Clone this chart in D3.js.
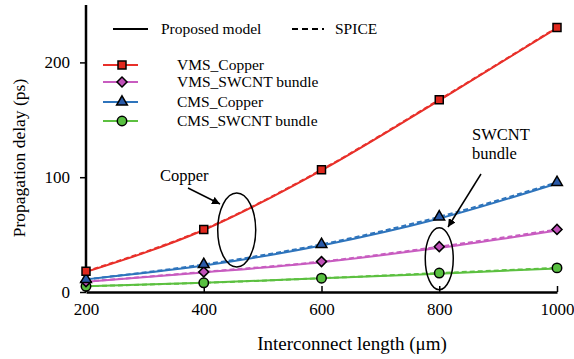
<!DOCTYPE html>
<html>
<head>
<meta charset="utf-8">
<script src="https://cdn.jsdelivr.net/npm/d3@7"></script>
<style>
  body { margin: 0; background: #fff; }
</style>
</head>
<body>
<div id="chart"></div>
<script>
// data
const lengths = [200, 400, 600, 800, 1000];
const xTicks = [200, 400, 600, 800, 1000];
const yTicks = [0, 100, 200];

const vmsCopperModel = [17.5, 54, 106, 167, 230];
const vmsCopperSpice = [18, 54.5, 106.5, 167.5, 230.5];
const vmsSwcntModel = [9, 17, 26, 38.5, 53.5];
const vmsSwcntSpice = [9, 17.5, 26.5, 39.5, 54.5];
const cmsCopperModel = [11, 23, 40.5, 64, 94.5];
const cmsCopperSpice = [11, 24, 41.5, 65.5, 95.5];
const cmsSwcntModel = [5, 8, 12, 16, 20.5];
const cmsSwcntSpice = [5, 8, 12, 16.5, 21];

const seriesNames = ['VMS_Copper', 'VMS_SWCNT bundle', 'CMS_Copper', 'CMS_SWCNT bundle'];

const FONT = 'Liberation Serif';

const series = [
  { name: seriesNames[3], model: cmsSwcntModel, spice: cmsSwcntSpice, line: '#5cc040', fill: '#58c040', symbol: d3.symbolCircle, size: 70, rot: 0 },
  { name: seriesNames[1], model: vmsSwcntModel, spice: vmsSwcntSpice, line: '#c85cc0', fill: '#c050b8', symbol: d3.symbolSquare, size: 50, rot: 45 },
  { name: seriesNames[2], model: cmsCopperModel, spice: cmsCopperSpice, line: '#2e74bc', fill: '#2a5aa8', symbol: d3.symbolTriangle, size: 50, rot: 0 },
  { name: seriesNames[0], model: vmsCopperModel, spice: vmsCopperSpice, line: '#e8302a', fill: '#e0281e', symbol: d3.symbolSquare, size: 64, rot: 0 }
];

const W = 574, H = 359;
const margin = { top: 5, right: 17, bottom: 67, left: 86 };
const width = W - margin.left - margin.right;
const height = H - margin.top - margin.bottom;

const svg = d3.select('#chart').append('svg')
  .attr('width', W).attr('height', H)
  .attr('font-family', FONT);

const g = svg.append('g').attr('transform', `translate(${margin.left},${margin.top})`);

const x = d3.scaleLinear().domain([200, 1000]).range([0, width]);
const y = d3.scaleLinear().domain([0, 250]).range([height, 0]);

// axes
const xAxis = g.append('g').attr('transform', `translate(0,${height})`)
  .call(d3.axisBottom(x).tickValues(xTicks).tickFormat(d3.format('d'))
    .tickSize(-6).tickPadding(14).tickSizeOuter(0));
const yAxis = g.append('g')
  .call(d3.axisLeft(y).tickValues(yTicks).tickFormat(d3.format('d'))
    .tickSize(6).tickPadding(10).tickSizeOuter(0));
[xAxis, yAxis].forEach(a => {
  a.attr('font-family', FONT).attr('font-size', 17);
  a.select('.domain').attr('stroke', '#000').attr('stroke-width', 2.5);
  a.selectAll('.tick line').attr('stroke', '#000').attr('stroke-width', 1.5);
  a.selectAll('.tick text').attr('fill', '#000');
});
xAxis.selectAll('.tick text').attr('dy', '0.55em');
yAxis.select('.domain').attr('d', `M0,${height}V0`);

// lines
const line = (vals) => d3.line()
  .x((d, i) => x(lengths[i]))
  .y(d => y(d))
  .curve(d3.curveMonotoneX)(vals);

series.forEach(s => {
  g.append('path').attr('d', line(s.model)).attr('fill', 'none')
    .attr('stroke', s.line).attr('stroke-width', 2);
  g.append('path').attr('d', line(s.spice)).attr('fill', 'none')
    .attr('stroke', s.line).attr('stroke-width', 2).attr('stroke-dasharray', '5,3');
});

series.forEach(s => {
  g.selectAll(null).data(s.spice).enter().append('path')
    .attr('d', d3.symbol().type(s.symbol).size(s.size))
    .attr('transform', (d, i) => `translate(${x(lengths[i])},${y(d)}) rotate(${s.rot})`)
    .attr('fill', s.fill).attr('stroke', '#000').attr('stroke-width', 1.5);
});

// annotations
g.append('ellipse')
  .attr('cx', x(456)).attr('cy', y(54))
  .attr('rx', 19).attr('ry', 37)
  .attr('fill', 'none').attr('stroke', '#000').attr('stroke-width', 1.5);
g.append('ellipse')
  .attr('cx', x(800)).attr('cy', y(29))
  .attr('rx', 14).attr('ry', 31)
  .attr('fill', 'none').attr('stroke', '#000').attr('stroke-width', 1.5);

svg.append('defs').append('marker')
  .attr('id', 'arrow').attr('viewBox', '0 0 10 10')
  .attr('refX', 10).attr('refY', 5)
  .attr('markerWidth', 8).attr('markerHeight', 8)
  .attr('markerUnits', 'userSpaceOnUse')
  .attr('orient', 'auto')
  .append('path').attr('d', 'M0,0L10,5L0,10z').attr('fill', '#000');

svg.append('line').attr('x1', 188).attr('y1', 188).attr('x2', 220).attr('y2', 204)
  .attr('stroke', '#000').attr('stroke-width', 1.5).attr('marker-end', 'url(#arrow)');
svg.append('line').attr('x1', 481).attr('y1', 174).attr('x2', 448).attr('y2', 227)
  .attr('stroke', '#000').attr('stroke-width', 1.5).attr('marker-end', 'url(#arrow)');

svg.append('text').attr('x', 160).attr('y', 181).attr('font-size', 16.5).text('Copper');
svg.append('text').attr('x', 472).attr('y', 140).attr('font-size', 16.5).text('SWCNT');
svg.append('text').attr('x', 472).attr('y', 159).attr('font-size', 16.5).text('bundle');

// legend: model vs SPICE
svg.append('line').attr('x1', 113).attr('x2', 148).attr('y1', 29).attr('y2', 29)
  .attr('stroke', '#000').attr('stroke-width', 2);
svg.append('text').attr('x', 161).attr('y', 34).attr('font-size', 15.5).text('Proposed model');
svg.append('line').attr('x1', 292).attr('x2', 324).attr('y1', 29).attr('y2', 29)
  .attr('stroke', '#000').attr('stroke-width', 2).attr('stroke-dasharray', '6,4');
svg.append('text').attr('x', 335).attr('y', 34).attr('font-size', 15.5).text('SPICE');

// legend: series
const legendOrder = [series[3], series[1], series[2], series[0]];
const legendY = [65, 82, 102, 121];
legendOrder.forEach((s, i) => {
  svg.append('line').attr('x1', 103).attr('x2', 138).attr('y1', legendY[i]).attr('y2', legendY[i])
    .attr('stroke', s.line).attr('stroke-width', 2);
  svg.append('path').attr('d', d3.symbol().type(s.symbol).size(s.size))
    .attr('transform', `translate(122,${legendY[i]}) rotate(${s.rot})`)
    .attr('fill', s.fill).attr('stroke', '#000').attr('stroke-width', 1.5);
  svg.append('text').attr('x', 177).attr('y', legendY[i] + 5).attr('font-size', 15.5).text(s.name);
});

// axis titles
svg.append('text')
  .attr('transform', 'translate(25,158) rotate(-90)')
  .attr('text-anchor', 'middle').attr('font-size', 17.5)
  .text('Propagation delay (ps)');
svg.append('text')
  .attr('x', 352).attr('y', 350)
  .attr('text-anchor', 'middle').attr('font-size', 19)
  .text('Interconnect length (μm)');
</script>
</body>
</html>
